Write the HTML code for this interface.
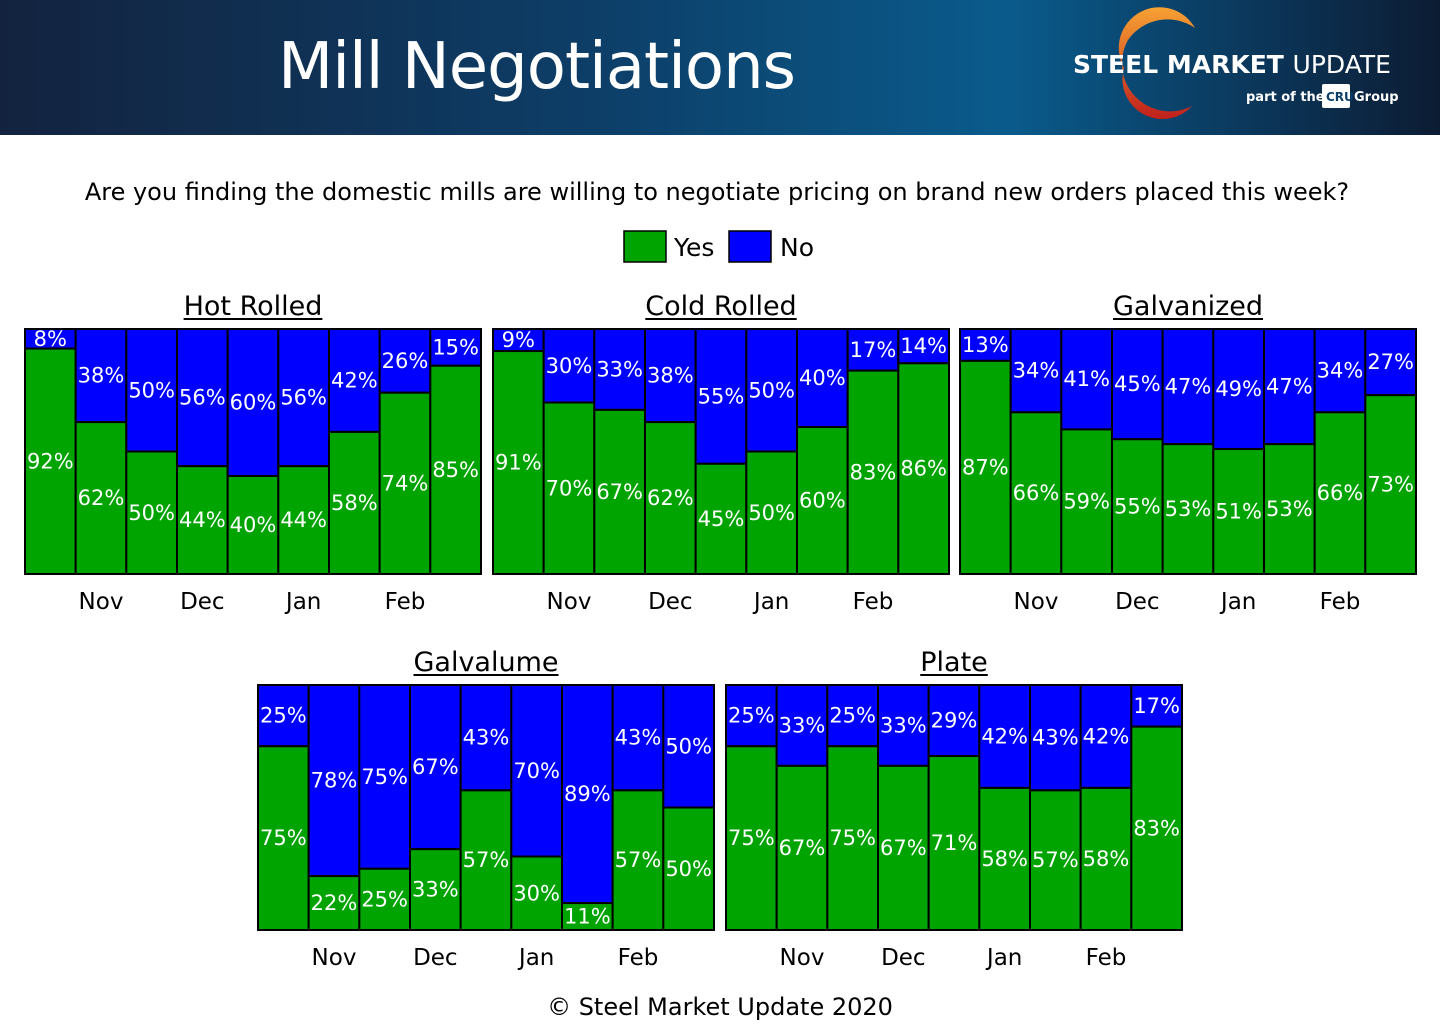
<!DOCTYPE html>
<html><head><meta charset="utf-8">
<style>
body{margin:0;width:1440px;height:1027px;background:#fff;font-family:"DejaVu Sans","Liberation Sans",sans-serif;overflow:hidden;position:relative}
#hdr{position:absolute;left:0;top:0;width:1440px;height:135px;background:linear-gradient(90deg,#13233f 0%,#0d3d66 40%,#0a5b8c 70%,#0b3558 88%,#0c1c33 100%)}
#title{position:absolute;left:278px;top:30px;color:#fff;font-size:64px;font-family:"DejaVu Sans",sans-serif;letter-spacing:-1px}
svg text{font-family:"DejaVu Sans","Liberation Sans",sans-serif}
</style></head><body>
<div id="hdr">
<div id="title">Mill Negotiations</div>
<svg width="400" height="135" style="position:absolute;left:1040px;top:0">
<defs><linearGradient id="og" x1="0" y1="0" x2="0" y2="1"><stop offset="0" stop-color="#f7a233"/><stop offset="1" stop-color="#c0201c"/></linearGradient></defs>
<path d="M88 40 A48 48 0 0 1 155 28 A38 38 0 0 0 84 68 A40 40 0 0 0 152 106 A48 48 0 0 1 88 40Z" fill="url(#og)"/>
<text x="33" y="73" fill="#fff" font-size="25" font-weight="bold" font-family="Liberation Sans">STEEL MARKET <tspan font-weight="normal">UPDATE</tspan></text>
<text x="206" y="101" fill="#fff" font-size="13" font-weight="bold" font-family="Liberation Sans">part of the</text>
<rect x="282" y="84" width="28" height="24" rx="2" fill="#fff"/>
<text x="286" y="101" fill="#0b3f6a" font-size="12" font-weight="bold" font-family="Liberation Sans">CRU</text>
<text x="314" y="101" fill="#fff" font-size="13" font-weight="bold" font-family="Liberation Sans">Group</text>
</svg>
</div>
<svg id="c" width="1440" height="892" style="position:absolute;left:0;top:135px"></svg>
<script>
const months=["Nov","Dec","Jan","Feb"];
const hrYes=[92,62,50,44,40,44,58,74,85];
const hrNo=[8,38,50,56,60,56,42,26,15];
const crYes=[91,70,67,62,45,50,60,83,86];
const crNo=[9,30,33,38,55,50,40,17,14];
const gvYes=[87,66,59,55,53,51,53,66,73];
const gvNo=[13,34,41,45,47,49,47,34,27];
const glYes=[75,22,25,33,57,30,11,57,50];
const glNo=[25,78,75,67,43,70,89,43,50];
const plYes=[75,67,75,67,71,58,57,58,83];
const plNo=[25,33,25,33,29,42,43,42,17];
const ns="http://www.w3.org/2000/svg";
const svg=document.getElementById('c');
function mk(t,a,p){const e=document.createElementNS(ns,t);for(const k in a)e.setAttribute(k,a[k]);(p||svg).appendChild(e);return e;}
function txt(x,y,s,size,fill,anchor,p){const e=mk('text',{x:x,y:y,'font-size':size,fill:fill,'text-anchor':anchor||'middle'},p);e.textContent=s;return e;}
const O=135;
let t=txt(717,192-O+8,"Are you finding the domestic mills are willing to negotiate pricing on brand new orders placed this week?",24,"#000");


let lg=mk('g',{});


mk('rect',{x:624,y:231-O,width:42,height:31,fill:'#00a400',stroke:'#000','stroke-width':1.5},lg);
txt(674,256-O,"Yes",25,"#000","start",lg);
mk('rect',{x:729,y:231-O,width:42,height:31,fill:'#0000ff',stroke:'#000','stroke-width':1.5},lg);
txt(780,256-O,"No",25,"#000","start",lg);
const panels=[["Hot Rolled",hrYes,hrNo,25,329,"hot-rolled"],["Cold Rolled",crYes,crNo,493,329,"cold-rolled"],["Galvanized",gvYes,gvNo,960,329,"galvanized"],["Galvalume",glYes,glNo,258,685,"galvalume"],["Plate",plYes,plNo,726,685,"plate"]];
const W=456,H=245;
panels.forEach(([name,yes,no,x0,y0,id])=>{
 const g=mk('g',{});
 
 
 const ty=y0-O-14;
 const tt=txt(x0+W/2,ty,name,27,"#000","middle",g);
 const tw=tt.getComputedTextLength();
 mk('line',{x1:x0+W/2-tw/2,x2:x0+W/2+tw/2,y1:ty+4,y2:ty+4,stroke:'#000','stroke-width':2},g);
 const n=yes.length,bw=W/n;
 const ys=v=>y0-O+H*(1-v/100);
 yes.forEach((v,i)=>{
  const x=x0+i*bw, top=y0-O, bot=y0-O+H, yy=ys(v);
  const b=mk('rect',{x:x,y:top,width:bw,height:yy-top,fill:'#0000ff',stroke:'#000','stroke-width':2},g);
  
  
  const gr=mk('rect',{x:x,y:yy,width:bw,height:bot-yy,fill:'#00a400',stroke:'#000','stroke-width':2},g);
  
  
  txt(x+bw/2,(top+yy)/2+7,no[i]+"%",21,"#fff","middle",g);
  txt(x+bw/2,(yy+bot)/2+7,v+"%",21,"#fff","middle",g);
 });
 months.forEach((m,k)=>{const l=txt(x0+bw*(1.5+2*k),y0-O+H+35,m,23,"#000","middle",g);
  
  });
});
t=txt(720,1015-O,"© Steel Market Update 2020",24,"#000");


</script>
</body></html>
